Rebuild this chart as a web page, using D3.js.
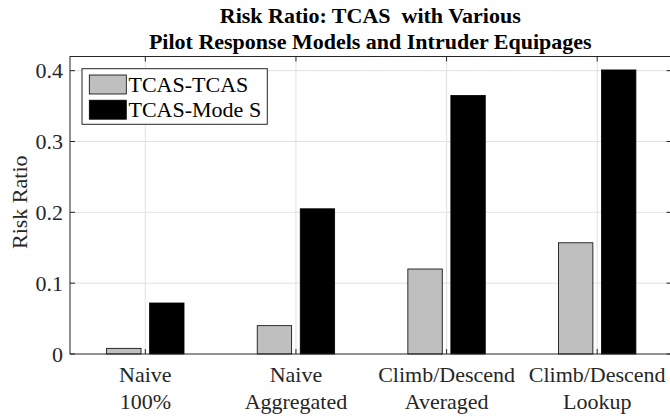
<!DOCTYPE html>
<html>
<head>
<meta charset="utf-8">
<script src="https://cdn.jsdelivr.net/npm/d3@7"></script>
<style>
  html, body { margin: 0; padding: 0; background: #fff; }
  svg { display: block; }
  text { font-family: "Liberation Serif", "Times New Roman", serif; fill: #262626; }
</style>
</head>
<body>
<script>
// ---- data ----
const categories = [["Naive", "100%"], ["Naive", "Aggregated"], ["Climb/Descend", "Averaged"], ["Climb/Descend", "Lookup"]];
const seriesNames = ["TCAS-TCAS", "TCAS-Mode S"];
const tcasTcas = [0.008, 0.040, 0.120, 0.157];
const tcasModeS = [0.072, 0.205, 0.365, 0.401];
const yTicks = [0, 0.1, 0.2, 0.3, 0.4];
const yTickLabels = ["0", "0.1", "0.2", "0.3", "0.4"];
const seriesColors = ["#bfbfbf", "#000000"];
const titleLines = ["Risk Ratio: TCAS\u00a0\u00a0with Various", "Pilot Response Models and Intruder Equipages"];

const W = 670, H = 417;
const pLeft = 70, pRight = 672.5, pTop = 56.5, pBottom = 354;

const svg = d3.select("body").append("svg").attr("width", W).attr("height", H);

const x = d3.scaleBand().domain(d3.range(categories.length)).range([pLeft, pRight]).padding(0);
const bw = x.bandwidth();
const xi = d3.scaleBand().domain(d3.range(seriesNames.length)).range([-0.257 * bw, 0.257 * bw]).paddingInner(0.2);
const y = d3.scaleLinear().domain([0, 0.42]).range([pBottom, pTop]);

const values = [tcasTcas, tcasModeS];

// grid
const grid = svg.append("g");
grid.selectAll("line.gy").data(yTicks.slice(1)).enter().append("line")
  .attr("x1", pLeft).attr("x2", pRight).attr("y1", d => y(d)).attr("y2", d => y(d))
  .attr("stroke", "#e1e1e1").attr("stroke-width", 1);
grid.selectAll("line.gx").data(d3.range(categories.length)).enter().append("line")
  .attr("x1", d => x(d) + bw / 2).attr("x2", d => x(d) + bw / 2)
  .attr("y1", pTop).attr("y2", pBottom)
  .attr("stroke", "#e1e1e1").attr("stroke-width", 1);

// bars
values.forEach((vals, s) => {
  svg.append("g").selectAll("rect").data(vals).enter().append("rect")
    .attr("x", (d, i) => x(i) + bw / 2 + xi(s))
    .attr("width", xi.bandwidth())
    .attr("y", d => y(d))
    .attr("height", d => y(0) - y(d))
    .attr("fill", seriesColors[s])
    .attr("stroke", "#000").attr("stroke-width", 0.8);
});

// axes box
const axc = "#262626";
svg.append("rect").attr("x", pLeft).attr("y", pTop).attr("width", pRight - pLeft).attr("height", pBottom - pTop)
  .attr("fill", "none").attr("stroke", axc).attr("stroke-width", 1);

// ticks (inside)
const tl = 5;
yTicks.forEach(t => {
  svg.append("line").attr("x1", pLeft).attr("x2", pLeft + tl).attr("y1", y(t)).attr("y2", y(t)).attr("stroke", axc);
  svg.append("line").attr("x1", pRight - 1).attr("x2", pRight - 1 - tl).attr("y1", y(t)).attr("y2", y(t)).attr("stroke", axc);
});
d3.range(categories.length).forEach(i => {
  const cx = x(i) + bw / 2;
  svg.append("line").attr("x1", cx).attr("x2", cx).attr("y1", pBottom).attr("y2", pBottom - tl).attr("stroke", axc);
  svg.append("line").attr("x1", cx).attr("x2", cx).attr("y1", pTop).attr("y2", pTop + tl).attr("stroke", axc);
});

// y tick labels
svg.append("g").selectAll("text").data(yTicks).enter().append("text")
  .attr("x", pLeft - 7).attr("y", d => y(d)).attr("dy", "0.35em")
  .attr("text-anchor", "end").attr("font-size", 22)
  .text((d, i) => yTickLabels[i]);

// x tick labels
const xl = svg.append("g").selectAll("text").data(categories).enter().append("text")
  .attr("text-anchor", "middle").attr("font-size", 22);
xl.append("tspan").attr("x", (d, i) => x(i) + bw / 2).attr("y", 382).text(d => d[0]);
xl.append("tspan").attr("x", (d, i) => x(i) + bw / 2).attr("y", 409).text(d => d[1]);

// y label
svg.append("text").attr("transform", `translate(27,${(pTop + pBottom) / 2 - 3}) rotate(-90)`)
  .attr("text-anchor", "middle").attr("font-size", 22).text("Risk Ratio");

// title
svg.append("g").selectAll("text").data(titleLines).enter().append("text")
  .attr("x", (pLeft + pRight) / 2 - 1).attr("y", (d, i) => 22.7 + i * 26.7)
  .attr("text-anchor", "middle").attr("font-size", 22).attr("font-weight", "bold")
  .style("fill", "#000")
  .text(d => d);

// legend
const lg = svg.append("g");
lg.append("rect").attr("x", 82).attr("y", 68.7).attr("width", 185.3).attr("height", 55.6)
  .attr("fill", "#fff").attr("stroke", axc).attr("stroke-width", 1);
seriesNames.forEach((name, s) => {
  const yc = 84.5 + s * 25.2;
  lg.append("rect").attr("x", 89.3).attr("y", yc - 9.5).attr("width", 37).attr("height", 19)
    .attr("fill", seriesColors[s]).attr("stroke", "#000").attr("stroke-width", 0.8);
  lg.append("text").attr("x", 128.5).attr("y", yc + 7.5).attr("font-size", 22).style("fill", "#000").text(name);
});
</script>
</body>
</html>
